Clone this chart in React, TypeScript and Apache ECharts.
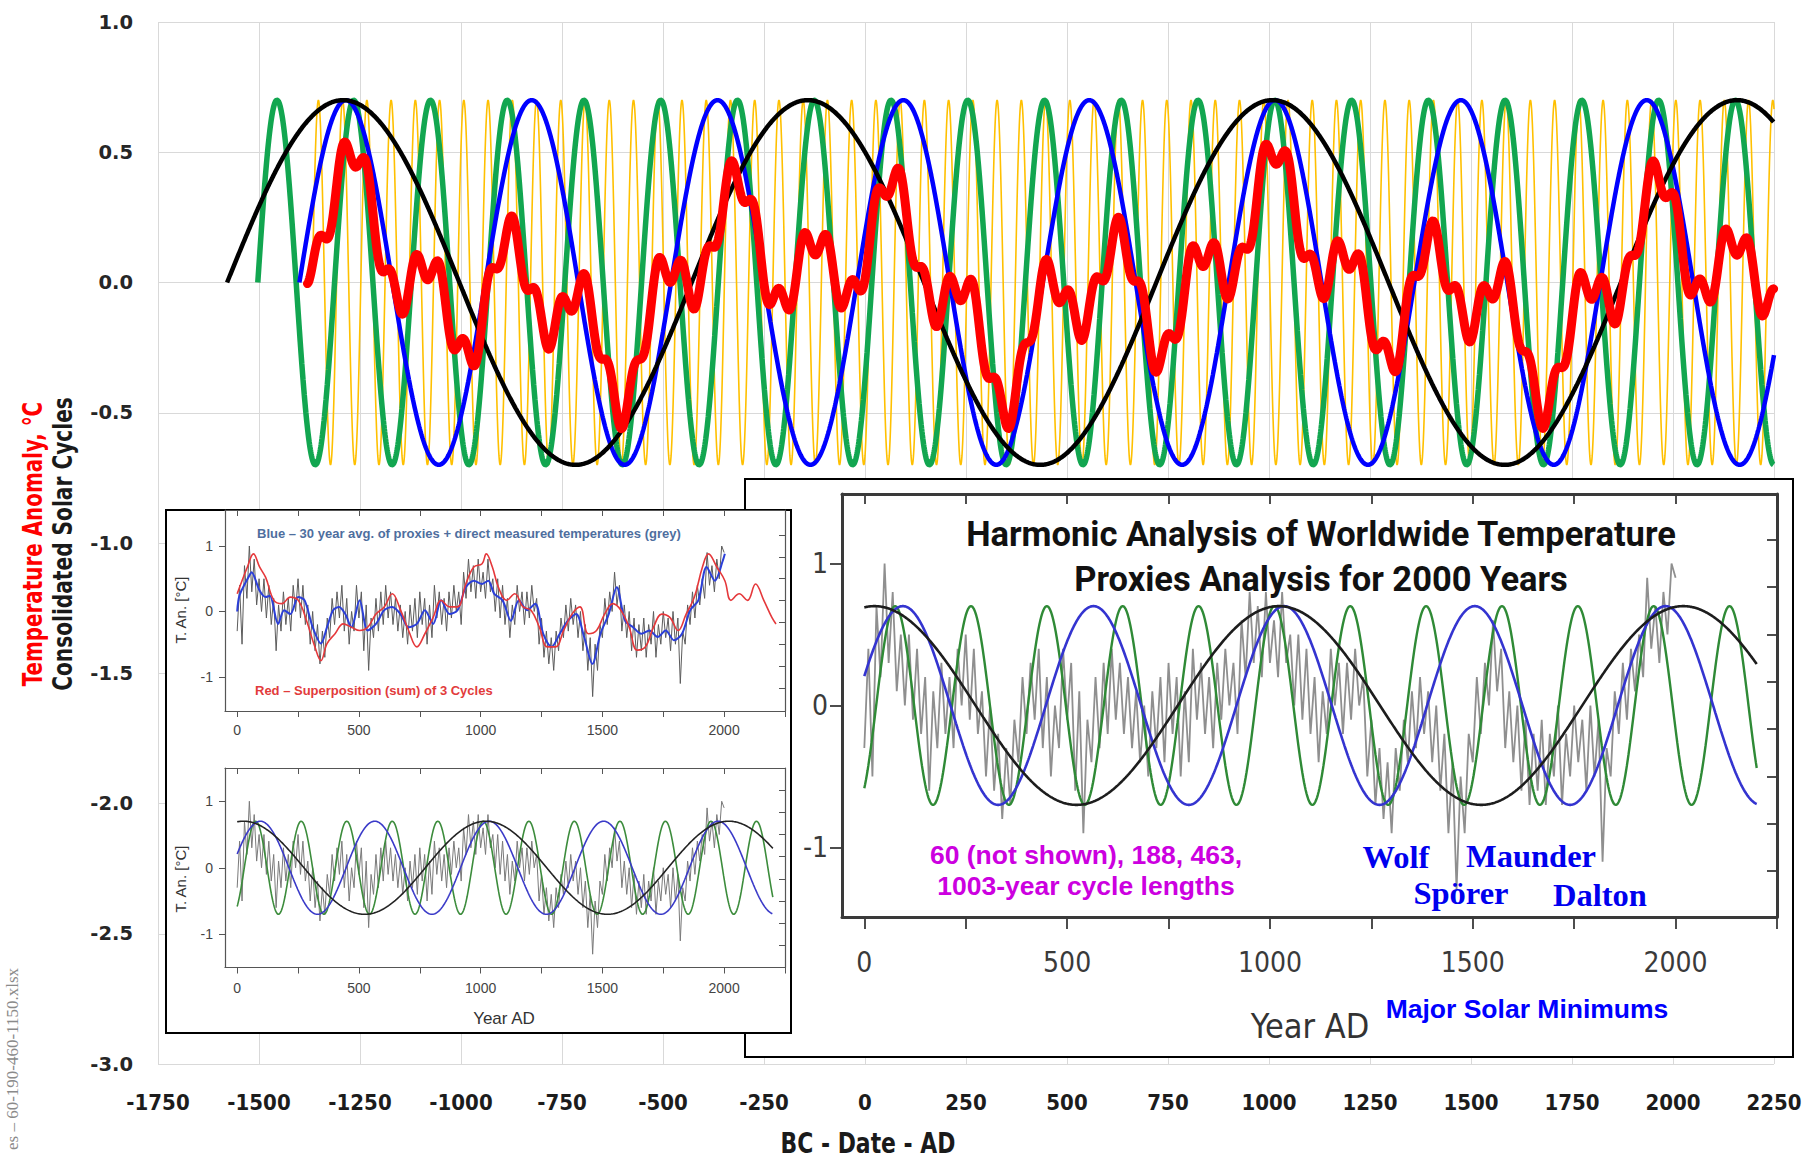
import React, { useEffect, useRef } from "react";
import * as echarts from "echarts";

const W = 1806;
const H = 1154;

// ---------------- Main chart (BC - Date - AD) ----------------
const mainXTicks = [-1750, -1500, -1250, -1000, -750, -500, -250, 0, 250, 500, 750, 1000, 1250, 1500, 1750, 2000, 2250];
const mainYTicks = [-3, -2.5, -2, -1.5, -1, -0.5, 0, 0.5, 1];

// Consolidated solar cycles (period in years, year where each sine starts rising through 0)
const mainCycleNames = ["60-year cycle", "190-year cycle", "460-year cycle", "1150-year cycle"];
const mainCyclePeriods = [60, 190, 460, 1150];
const mainCycleStartYears = [-1368, -1503, -1400, -1579];
const mainCycleAmplitudes = [0.7, 0.7, 0.7, 0.7];
const mainCycleEndYear = 2250;
// Temperature anomaly (red) = weighted superposition of the cycles above
const mainAnomalyWeights = [0.1, 0.25, 0.25, 0.25];
const mainAnomalyStartYear = -1380;

// ---------------- Insets (Year AD) ----------------
const insetXTicks = [0, 250, 500, 750, 1000, 1250, 1500, 1750, 2000, 2250];
const insetXLabels = [0, 500, 1000, 1500, 2000];
const insetYLabels = [-1, 0, 1];
const insetRightTicks = [-7 / 6, -5 / 6, -1 / 2, -1 / 6, 1 / 6, 1 / 2, 5 / 6, 7 / 6];

// grey proxies + measured temperatures, every 10 years from year 0
const proxyStartYear = 0;
const proxyStep = 10;
const proxyValues = [
  -0.3, 0.4, -0.5, 0.7, 0.2, 1.0, 0.3, 0.8, 0.1, 0.5,
  0.0, 0.5, -0.1, 0.4, -0.2, 0.2, -0.6, 0.1, -0.3, 0.3,
  -0.2, 0.2, -0.3, 0.4, 0.0, 0.5, -0.1, 0.4, -0.2, 0.1,
  -0.5, 0.0, -0.6, -0.2, -0.8, -0.3, -0.7, -0.1, -0.4, 0.2,
  -0.2, 0.3, -0.1, 0.4, -0.3, 0.2, -0.5, 0.0, -0.3, 0.4,
  -0.1, 0.3, -0.6, 0.1, -0.9, -0.1, -0.4, 0.2, -0.3, 0.3,
  -0.2, 0.4, -0.1, 0.3, -0.2, 0.2, -0.3, 0.1, -0.4, 0.0,
  -0.5, 0.1, -0.3, 0.2, -0.4, 0.3, -0.2, 0.2, -0.5, 0.1,
  -0.4, 0.4, -0.1, 0.3, -0.2, 0.2, -0.3, 0.3, -0.1, 0.4,
  0.0, 0.3, -0.2, 0.6, 0.2, 0.8, 0.3, 0.7, 0.2, 0.8,
  0.3, 0.6, 0.2, 0.8, 0.3, 0.5, 0.0, 0.5, -0.1, 0.4,
  -0.2, 0.2, -0.4, 0.1, -0.2, 0.4, 0.0, 0.3, -0.2, 0.3,
  -0.1, 0.4, 0.0, 0.2, -0.5, -0.1, -0.7, -0.3, -0.8, -0.4,
  -0.9, -0.3, -0.6, -0.1, -0.4, 0.1, -0.3, 0.2, -0.2, 0.1,
  -0.4, 0.0, -0.6, -0.2, -0.9, -0.4, -1.3, -0.5, -0.9, -0.2,
  -0.4, 0.2, -0.2, 0.3, 0.0, 0.6, 0.1, 0.4, -0.3, 0.1,
  -0.4, 0.0, -0.6, -0.1, -0.7, -0.2, -0.6, -0.1, -0.7, -0.2,
  -0.5, 0.0, -0.7, -0.2, -0.5, 0.0, -0.4, -0.1, -0.6, 0.0,
  -0.5, -0.1, -1.1, -0.3, -0.5, 0.1, -0.2, 0.3, -0.1, 0.4,
  0.1, 0.5, 0.2, 0.9, 0.4, 0.7, 0.3, 0.8, 0.5, 1.0,
  0.9,
];

// blue 30-year average (top-left inset)
const avgYears = [0, 10, 50, 59, 92, 117, 134, 168, 193, 218, 251, 277, 310, 344, 369, 394, 419, 444, 469, 503, 536, 570, 604, 637, 671, 704, 738, 771, 805, 838, 872, 905, 939, 972, 1006, 1031, 1056, 1090, 1124, 1157, 1191, 1224, 1257, 1291, 1325, 1358, 1392, 1425, 1459, 1492, 1526, 1559, 1593, 1626, 1660, 1693, 1727, 1760, 1794, 1827, 1861, 1894, 1928, 1962, 1995, 2003];
const avgValues = [0.0, 0.25, 0.55, 0.6, 0.32, 0.22, 0.24, -0.19, 0.02, -0.04, 0.22, 0.17, -0.24, -0.49, -0.24, 0.02, 0.07, -0.04, -0.24, 0.17, -0.29, -0.19, 0.02, 0.07, -0.04, -0.24, -0.19, 0.02, -0.19, 0.17, -0.04, 0.02, 0.37, 0.47, 0.42, 0.47, 0.27, 0.17, -0.14, 0.17, 0.02, 0.12, -0.34, -0.54, -0.34, -0.14, -0.04, -0.39, -0.8, -0.34, -0.04, 0.37, -0.14, -0.24, -0.34, -0.29, -0.39, -0.29, -0.44, -0.34, 0.02, 0.17, 0.68, 0.47, 0.78, 0.88];

// red superposition of 3 cycles (top-left inset)
const supYears = [0, 42, 67, 92, 117, 151, 184, 218, 251, 285, 319, 344, 369, 402, 436, 469, 503, 536, 570, 604, 637, 671, 704, 738, 771, 805, 838, 872, 905, 939, 972, 1006, 1023, 1048, 1073, 1107, 1140, 1174, 1207, 1241, 1274, 1308, 1341, 1375, 1408, 1442, 1476, 1509, 1543, 1576, 1610, 1643, 1677, 1710, 1744, 1777, 1811, 1844, 1878, 1911, 1936, 1970, 2003, 2028, 2062, 2096, 2129, 2163, 2196, 2213];
const supValues = [0.27, 0.68, 0.88, 0.68, 0.52, 0.17, 0.12, 0.22, 0.17, -0.14, -0.54, -0.75, -0.49, -0.34, -0.19, -0.24, -0.29, -0.24, -0.04, 0.07, 0.27, 0.02, -0.29, -0.54, -0.34, -0.09, 0.17, 0.07, 0.07, 0.42, 0.68, 0.73, 0.88, 0.68, 0.37, 0.17, 0.27, 0.07, 0.02, -0.24, -0.54, -0.54, -0.29, -0.04, 0.07, -0.34, -0.29, -0.04, 0.12, 0.02, -0.24, -0.59, -0.54, -0.24, -0.04, -0.09, -0.29, -0.04, 0.22, 0.68, 0.88, 0.68, 0.47, 0.17, 0.27, 0.17, 0.42, 0.17, -0.09, -0.19];

// harmonic cycles of the insets (period, year of a crest)
const insetCycleNames = ["188-year", "463-year", "1003-year"];
const insetCyclePeriods = [187, 470, 997];
const insetCyclePeakYears = [76, 95, 25];
const insetCycleAmplitude = 0.7;
const insetCycleFrom = 0;
const insetCycleTo = 2200;

// ---------------- styles ----------------
const COND = "'DejaVu Sans Condensed', 'Liberation Sans Narrow', sans-serif";
const SANS = "'Liberation Sans', Arial, sans-serif";
const SERIF = "'Liberation Serif', 'Times New Roman', serif";
const VERD = "'DejaVu Sans', Verdana, sans-serif";
const mainColors = ["#FFC000", "#12A650", "#0000FF", "#000000"];
const mainWidths = [1.6, 5.5, 4.5, 4.5];

function mainCycleData(i: number) {
  const pts: number[][] = [];
  const s = mainCycleStartYears[i];
  for (let t = s; t <= mainCycleEndYear; t += 1) {
    pts.push([t, mainCycleAmplitudes[i] * Math.sin((2 * Math.PI * (t - s)) / mainCyclePeriods[i])]);
  }
  return pts;
}

function mainAnomalyData() {
  const pts: number[][] = [];
  for (let t = mainAnomalyStartYear; t <= mainCycleEndYear; t += 1) {
    let v = 0;
    for (let i = 0; i < mainCyclePeriods.length; i++) {
      v += mainAnomalyWeights[i] * mainCycleAmplitudes[i] * Math.sin((2 * Math.PI * (t - mainCycleStartYears[i])) / mainCyclePeriods[i]);
    }
    pts.push([t, v]);
  }
  return pts;
}

function insetCycleData(i: number) {
  const pts: number[][] = [];
  for (let t = insetCycleFrom; t <= insetCycleTo; t += 2) {
    pts.push([t, insetCycleAmplitude * Math.cos((2 * Math.PI * (t - insetCyclePeakYears[i])) / insetCyclePeriods[i])]);
  }
  return pts;
}

const proxyData = proxyValues.map((v, k) => [proxyStartYear + k * proxyStep, v]);
const avgData = avgYears.map((y, k) => [y, avgValues[k]]);
const supData = supYears.map((y, k) => [y, supValues[k]]);

type InsetDef = {
  grid: any;
  xMin: number; xMax: number; yMin: number; yMax: number;
  frame: string; fw: number; tickOut: number; tickIn: number;
  xFont: number; yFont: number; family: string; labelColor: string;
  xMargin: number; yMargin: number;
};

const insets: InsetDef[] = [
  { grid: { left: 225, top: 510, width: 560, height: 201 }, xMin: -50, xMax: 2250, yMin: -1.52, yMax: 1.55, frame: "#555", fw: 1.2, tickOut: 6, tickIn: 6, xFont: 14, yFont: 14, family: SANS, labelColor: "#444", xMargin: 12, yMargin: 12 },
  { grid: { left: 225, top: 768, width: 560, height: 199.5 }, xMin: -50, xMax: 2250, yMin: -1.5, yMax: 1.5, frame: "#555", fw: 1.2, tickOut: 6, tickIn: 6, xFont: 14, yFont: 14, family: SANS, labelColor: "#444", xMargin: 13, yMargin: 12 },
  { grid: { left: 842, top: 494, width: 935, height: 423 }, xMin: -55, xMax: 2250, yMin: -1.49, yMax: 1.49, frame: "#3a3a3a", fw: 3, tickOut: 12, tickIn: 10, xFont: 28, yFont: 28, family: COND, labelColor: "#3a3a3a", xMargin: 31, yMargin: 14 },
];

const plain = (v: number) => String(v);

function buildOption() {
  const grids: any[] = [{ left: 158, top: 22, width: 1616, height: 1042 }];
  const xAxes: any[] = [
    {
      type: "value", gridIndex: 0,
      min: mainXTicks[0], max: mainXTicks[mainXTicks.length - 1], interval: mainXTicks[1] - mainXTicks[0],
      axisLine: { show: false, onZero: false }, axisTick: { show: false },
      splitLine: { show: true, lineStyle: { color: "#D9D9D9", width: 1 } },
      axisLabel: { fontFamily: COND, fontWeight: "bold", fontSize: 22, color: "#1c1c1c", margin: 27, formatter: plain },
    },
  ];
  const yAxes: any[] = [
    {
      type: "value", gridIndex: 0,
      min: mainYTicks[0], max: mainYTicks[mainYTicks.length - 1], interval: mainYTicks[1] - mainYTicks[0],
      axisLine: { show: false, onZero: false }, axisTick: { show: false },
      splitLine: { show: true, lineStyle: { color: "#D9D9D9", width: 1 } },
      axisLabel: { fontFamily: VERD, fontWeight: "bold", fontSize: 19.5, color: "#262626", margin: 25, formatter: (v: number) => v.toFixed(1) },
    },
  ];

  insets.forEach((d, k) => {
    const gi = k + 1;
    grids.push({ ...d.grid, z: 5 });
    const line = { show: true, onZero: false, lineStyle: { color: d.frame, width: d.fw } };
    const tickStyle = { color: d.frame, width: Math.max(1, d.fw * 0.6) };
    xAxes.push({
      type: "value", gridIndex: gi, min: d.xMin, max: d.xMax, position: "bottom", z: 6,
      axisLine: line,
      axisTick: { show: true, customValues: insetXTicks, length: d.tickOut, inside: false, lineStyle: tickStyle },
      axisLabel: { show: true, customValues: insetXLabels, fontSize: d.xFont, fontFamily: d.family, color: d.labelColor, margin: d.xMargin, formatter: plain },
      splitLine: { show: false },
    });
    xAxes.push({
      type: "value", gridIndex: gi, min: d.xMin, max: d.xMax, position: "top", z: 6,
      axisLine: line,
      axisTick: { show: true, customValues: insetXTicks, length: d.tickIn, inside: true, lineStyle: tickStyle },
      axisLabel: { show: false },
      splitLine: { show: false },
    });
    yAxes.push({
      type: "value", gridIndex: gi, min: d.yMin, max: d.yMax, position: "left", z: 6,
      axisLine: line,
      axisTick: { show: true, customValues: insetYLabels, length: d.tickOut, inside: false, lineStyle: tickStyle },
      axisLabel: { show: true, customValues: insetYLabels, fontSize: d.yFont, fontFamily: d.family, color: d.labelColor, margin: d.yMargin, formatter: plain },
      splitLine: { show: false },
    });
    yAxes.push({
      type: "value", gridIndex: gi, min: d.yMin, max: d.yMax, position: "right", z: 6,
      axisLine: line,
      axisTick: { show: true, customValues: insetRightTicks, length: d.tickIn, inside: true, lineStyle: tickStyle },
      axisLabel: { show: false },
      splitLine: { show: false },
    });
  });

  const series: any[] = [];
  mainCycleNames.forEach((name, i) => {
    series.push({
      type: "line", name, xAxisIndex: 0, yAxisIndex: 0, data: mainCycleData(i),
      showSymbol: false, symbol: "none", silent: true, z: 2,
      lineStyle: { color: mainColors[i], width: mainWidths[i] },
    });
  });
  series.push({
    type: "line", name: "Temperature Anomaly", xAxisIndex: 0, yAxisIndex: 0, data: mainAnomalyData(),
    showSymbol: false, symbol: "none", silent: true, z: 3,
    lineStyle: { color: "#FF0000", width: 9, join: "round", cap: "round" },
  });

  // top-left inset
  series.push({ type: "line", name: "proxies", xAxisIndex: 1, yAxisIndex: 1, data: proxyData, showSymbol: false, symbol: "none", silent: true, z: 7, lineStyle: { color: "#5c5c5c", width: 1 } });
  series.push({ type: "line", name: "30 year avg", xAxisIndex: 1, yAxisIndex: 1, data: avgData, smooth: 0.3, showSymbol: false, symbol: "none", silent: true, z: 7, lineStyle: { color: "#2B3FD8", width: 2 } });
  series.push({ type: "line", name: "superposition", xAxisIndex: 1, yAxisIndex: 1, data: supData, smooth: 0.4, showSymbol: false, symbol: "none", silent: true, z: 7, lineStyle: { color: "#E5383B", width: 1.6 } });

  const insetColorsSmall = ["#3C8C3C", "#3A3AC8", "#222222"];
  const insetColorsBig = ["#2F8A36", "#3434D0", "#1d1d1d"];
  // bottom-left inset
  series.push({ type: "line", name: "proxies", xAxisIndex: 3, yAxisIndex: 3, data: proxyData, showSymbol: false, symbol: "none", silent: true, z: 7, lineStyle: { color: "#7a7a7a", width: 1 } });
  insetCycleNames.forEach((name, i) => {
    series.push({ type: "line", name, xAxisIndex: 3, yAxisIndex: 3, data: insetCycleData(i), showSymbol: false, symbol: "none", silent: true, z: 7, lineStyle: { color: insetColorsSmall[i], width: 1.6 } });
  });
  // right inset
  series.push({ type: "line", name: "proxies", xAxisIndex: 5, yAxisIndex: 5, data: proxyData, showSymbol: false, symbol: "none", silent: true, z: 7, lineStyle: { color: "#8f8f8f", width: 1.8 } });
  insetCycleNames.forEach((name, i) => {
    series.push({ type: "line", name, xAxisIndex: 5, yAxisIndex: 5, data: insetCycleData(i), showSymbol: false, symbol: "none", silent: true, z: 7, lineStyle: { color: insetColorsBig[i], width: i === 0 ? 2.4 : 2.6 } });
  });

  const T = (x: number, y: number, text: string, font: string, fill: string, align = "center", rotation = 0, scaleX = 1) => ({
    type: "text", x, y, rotation, scaleX, z: 8, silent: true,
    style: { text, font, fill, textAlign: align, textVerticalAlign: "middle", align, verticalAlign: "middle" },
  });

  const graphic = [
    { type: "rect", z: 3, silent: true, shape: { x: 745, y: 479, width: 1048, height: 578 }, style: { fill: "#fff", stroke: "#000", lineWidth: 2 } },
    { type: "rect", z: 4, silent: true, shape: { x: 166, y: 510, width: 625, height: 523 }, style: { fill: "#fff", stroke: "#000", lineWidth: 2 } },
    // main axis names
    T(33, 544, "Temperature Anomaly, °C", `bold 27px ${COND}`, "#FF0000", "center", Math.PI / 2, 0.82),
    T(63, 544, "Consolidated Solar Cycles", `bold 27px ${COND}`, "#1a1a1a", "center", Math.PI / 2, 0.83),
    T(868, 1143, "BC - Date - AD", `bold 29px ${COND}`, "#1a1a1a", "center", 0, 0.84),
    T(12, 1150, "es – 60-190-460-1150.xlsx", `17px ${SERIF}`, "#8a8a8a", "left", Math.PI / 2),
    // top-left inset texts
    T(257, 533, "Blue – 30 year avg. of proxies + direct measured temperatures (grey)", `bold 13px ${SANS}`, "#4E6E9E", "left"),
    T(255, 690, "Red – Superposition (sum) of 3 Cycles", `bold 13px ${SANS}`, "#E23B3B", "left"),
    T(180, 610, "T. An. [°C]", `15px ${SANS}`, "#333", "center", Math.PI / 2),
    T(180, 879, "T. An. [°C]", `15px ${SANS}`, "#333", "center", Math.PI / 2),
    T(504, 1018, "Year AD", `17px ${SANS}`, "#333"),
    // right inset texts
    T(1321, 534, "Harmonic Analysis of Worldwide Temperature", `bold 34.5px Roboto, ${SANS}`, "#111"),
    T(1321, 579, "Proxies Analysis for 2000 Years", `bold 34.5px Roboto, ${SANS}`, "#111"),
    T(1086, 855, "60 (not shown), 188, 463,", `bold 26.5px ${SANS}`, "#CC00E0"),
    T(1086, 886, "1003-year cycle lengths", `bold 26.5px ${SANS}`, "#CC00E0"),
    T(1396, 857, "Wolf", `bold 32.5px ${SERIF}`, "#0000EE"),
    T(1531, 856, "Maunder", `bold 32.5px ${SERIF}`, "#0000EE"),
    T(1461, 893, "Spörer", `bold 32.5px ${SERIF}`, "#0000EE"),
    T(1600, 895, "Dalton", `bold 32.5px ${SERIF}`, "#0000EE"),
    T(1527, 1009, "Major Solar Minimums", `bold 26.5px ${SANS}`, "#0000FF"),
    T(1310, 1026, "Year AD", `34px ${COND}`, "#333"),
  ];

  return {
    animation: false,
    backgroundColor: "#fff",
    grid: grids,
    xAxis: xAxes,
    yAxis: yAxes,
    series,
    graphic,
  };
}

export default function App() {
  const ref = useRef<HTMLDivElement>(null);
  useEffect(() => {
    document.body.style.margin = "0";
    const chart = echarts.init(ref.current!, null, { renderer: "svg", width: W, height: H });
    chart.setOption(buildOption() as any);
    return () => chart.dispose();
  }, []);
  return <div ref={ref} style={{ width: W, height: H, background: "#fff" }} />;
}
